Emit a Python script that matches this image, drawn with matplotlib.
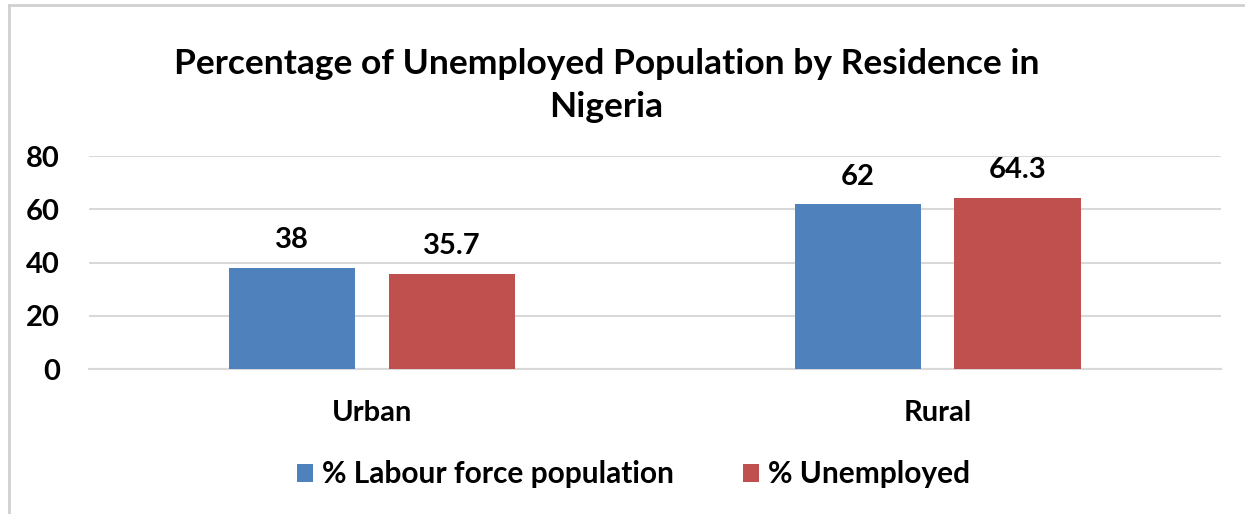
import matplotlib.pyplot as plt
from matplotlib.lines import Line2D

# data
residence = ['Urban', 'Rural']
labour_force = [38, 62]
unemployed = [35.7, 64.3]
series_names = ['% Labour force population', '% Unemployed']

blue = '#4F81BD'
red = '#C0504D'
grid_col = '#D9D9D9'

plt.rcParams['font.family'] = ['Lato', 'DejaVu Sans']
plt.rcParams['font.weight'] = 'bold'

fig = plt.figure(figsize=(12.45, 5.14), dpi=100)
ax = fig.add_axes([0.0715, 0.282, 0.909, 0.414])

x = range(len(residence))
w = 0.223
off = 0.141
b1 = ax.bar([i - off for i in x], labour_force, w, color=blue, label=series_names[0], zorder=3)
b2 = ax.bar([i + off for i in x], unemployed, w, color=red, label=series_names[1], zorder=3)

# value labels over the bars
for bars, vals in ((b1, labour_force), (b2, unemployed)):
    for r, v in zip(bars, vals):
        ax.text(r.get_x() + r.get_width() / 2, v + 5.5, f'{v:g}', ha='center', va='bottom',
                fontsize=21, fontweight='bold')

ax.set_xlim(-0.5, 1.5)
ax.set_ylim(0, 80)
ax.set_yticks([0, 20, 40, 60, 80])
ax.set_xticks(list(x))
ax.set_xticklabels(residence)
ax.yaxis.grid(True, color=grid_col, linewidth=1.5, zorder=0)
ax.set_axisbelow(True)
for s in ['top', 'right', 'left']:
    ax.spines[s].set_visible(False)
ax.spines['bottom'].set_color(grid_col)
ax.spines['bottom'].set_linewidth(1.5)
ax.tick_params(axis='both', length=0, labelsize=21)
ax.tick_params(axis='x', pad=22)
ax.tick_params(axis='y', pad=21)

fig.text(0.487, 0.834, 'Percentage of Unemployed Population by Residence in\nNigeria',
         ha='center', va='center', fontsize=25.5, fontweight='bold', linespacing=1.42)

fig.legend(handles=[b1, b2], labels=series_names, loc='center', bbox_to_anchor=(0.509, 0.077),
           ncol=2, frameon=False, fontsize=21.5, handlelength=0.55, handleheight=0.55,
           handletextpad=0.3, columnspacing=2.3)

# outer frame (top and left edges)
fig.add_artist(Line2D([9 / 1245, 1], [509 / 514, 509 / 514], color='#D0D0D0', linewidth=2))
fig.add_artist(Line2D([9 / 1245, 9 / 1245], [0, 509 / 514], color='#D0D0D0', linewidth=2))

fig.savefig('out.png', dpi=100)
